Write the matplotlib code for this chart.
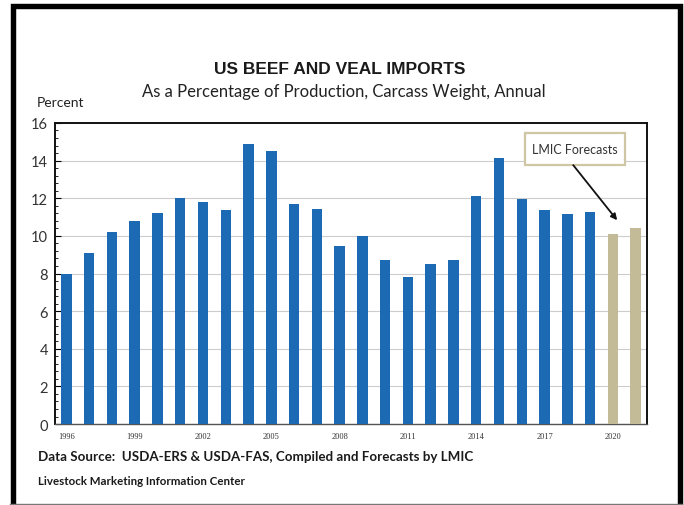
import matplotlib
matplotlib.use("Agg")
import matplotlib.pyplot as plt
from matplotlib.patches import Rectangle
from matplotlib.lines import Line2D
from matplotlib.ticker import MultipleLocator

years = list(range(1996, 2022))
values = [8.0, 9.1, 10.2, 10.8, 11.2, 12.0, 11.8, 11.4, 14.9, 14.5,
          11.7, 11.45, 9.45, 10.0, 8.7, 7.8, 8.5, 8.7, 12.1, 14.15,
          11.95, 11.4, 11.15, 11.25, 10.1, 10.4]
forecast_years = [2020, 2021]
tick_years = [1996, 1999, 2002, 2005, 2008, 2011, 2014, 2017, 2020]

blue = "#1c6ab3"
tan = "#c3ba98"
colors = [tan if y in forecast_years else blue for y in years]

fig = plt.figure(figsize=(6.84, 5.06), dpi=100)
ax = fig.add_axes([0.0804, 0.160, 0.8655, 0.595])

x = list(range(len(years)))
ax.bar(x, values, width=0.46, color=colors, zorder=3)
ax.set_xlim(-0.5, len(years) - 0.5)
ax.set_ylim(0, 16)
ax.yaxis.set_major_locator(MultipleLocator(2))
ax.yaxis.set_minor_locator(MultipleLocator(0.4))
ax.grid(axis="y", color="#cccccc", linewidth=0.8, zorder=0)

ax.set_xticks([years.index(y) for y in tick_years])
ax.set_xticklabels([str(y) for y in tick_years], fontsize=6, color="#333333", family="Liberation Serif")
ax.set_xticks(x, minor=True)
ax.tick_params(axis="x", which="both", direction="in", length=2, color="#555555", pad=6)
ax.tick_params(axis="y", which="major", direction="in", length=4, labelsize=10.5, labelcolor="#333333", pad=5)
ax.tick_params(axis="y", which="minor", direction="in", length=2)
for lab in ax.get_yticklabels():
    lab.set_family("Lato")
for s in ["left", "top", "right"]:
    ax.spines[s].set_color("#111111")
    ax.spines[s].set_linewidth(1.4)
ax.spines["bottom"].set_color("#555555")
ax.spines["bottom"].set_linewidth(1.0)

fig.text(0.497, 0.862, "US BEEF AND VEAL IMPORTS", ha="center", va="center",
         fontsize=12.5, fontweight="bold", family="Liberation Sans", color="#1a1a1a")
fig.text(0.503, 0.818, "As a Percentage of Production, Carcass Weight, Annual", ha="center", va="center",
         fontsize=12, family="Lato", color="#222222")
fig.text(0.054, 0.796, "Percent", ha="left", va="center", fontsize=10, family="Lato", color="#222222")
fig.text(0.055, 0.097, "Data Source:  USDA-ERS & USDA-FAS, Compiled and Forecasts by LMIC", ha="left", va="center",
         fontsize=9.6, fontweight="bold", family="Lato", color="#1a1a1a")
fig.text(0.055, 0.049, "Livestock Marketing Information Center", ha="left", va="center",
         fontsize=8.3, fontweight="bold", family="Lato", color="#1a1a1a")

# forecast callout
ax.add_patch(Rectangle((20.16, 13.76), 4.38, 1.71, fc="white", ec="#cfc6a4", lw=1.6, zorder=6))
ax.text(22.35, 14.62, "LMIC Forecasts", ha="center", va="center", fontsize=9,
        family="Lato", color="#333333", zorder=7)
ax.annotate("", xy=(24.19, 10.83), xytext=(22.26, 13.76),
            arrowprops=dict(arrowstyle="-|>", color="#111111", lw=1.3, shrinkA=0, shrinkB=0,
                            mutation_scale=9), zorder=7)

# outer frame (left, top, right thick; bottom thin)
L, R, T = 12.5 / 684, 679.5 / 684, 1 - 7 / 506
fig.add_artist(Line2D([L, L, R, R], [0, T, T, 0], transform=fig.transFigure, color="black",
                      lw=3.9, solid_joinstyle="miter"))
fig.add_artist(Line2D([10 / 684, 682 / 684], [0.6 / 506, 0.6 / 506], transform=fig.transFigure,
                      color="#777777", lw=1))

fig.savefig("out.png", dpi=100)
